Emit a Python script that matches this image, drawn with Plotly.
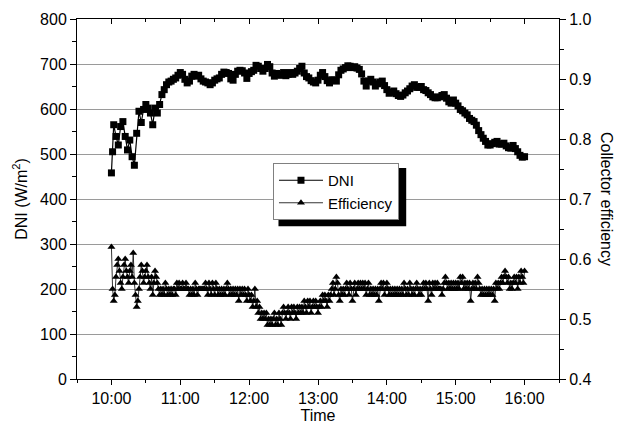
import pandas as pd
import plotly.graph_objects as go

# ---- data (minutes after 10:00) ----
dni_minutes = [0, 1] + list(range(2, 361, 2))
dni_values = [
    458, 505, 565, 539, 520, 561, 572, 539, 509, 531,
    494, 475, 546, 595, 570, 599, 610, 602, 591, 565,
    602, 591, 610, 632, 643, 654, 660, 662, 666, 669,
    675, 681, 677, 666, 658, 662, 673, 677, 673, 675,
    667, 662, 660, 658, 654, 658, 664, 667, 669, 677,
    682, 681, 679, 667, 664, 677, 684, 686, 685, 680,
    668, 679, 683, 686, 697, 695, 690, 684, 690, 699,
    694, 680, 673, 679, 676, 675, 681, 674, 677, 681,
    677, 680, 684, 690, 695, 680, 672, 669, 663, 660,
    658, 664, 675, 681, 672, 663, 658, 665, 664, 662,
    676, 686, 689, 692, 696, 695, 692, 694, 691, 688,
    678, 662, 651, 662, 666, 660, 651, 656, 660, 662,
    652, 643, 635, 637, 640, 634, 630, 628, 631, 636,
    640, 645, 651, 654, 648, 648, 650, 643, 641, 636,
    632, 627, 625, 625, 627, 630, 632, 624, 616, 613,
    620, 613, 607, 599, 596, 591, 587, 579, 575, 572,
    564, 552, 543, 535, 528, 520, 520, 523, 526, 528,
    522, 522, 524, 518, 514, 513, 519, 512, 505, 497,
    493, 494,
]

eff_minutes = list(range(0, 361))
eff_values = [
    .62, .55, .53, .54, .57, .59, .60, .58, .56, .55,
    .57, .59, .60, .58, .57, .56, .58, .59, .57, .61,
    .56, .54, .52, .53, .55, .57, .59, .58, .56, .57,
    .58, .59, .57, .56, .55, .57, .54, .56, .58, .57,
    .56, .55, .54, .55, .54, .55, .54, .56, .55, .54,
    .55, .54, .55, .54, .55, .55, .54, .56, .55, .56,
    .55, .55, .56, .55, .55, .56, .55, .55, .54, .55,
    .54, .55, .54, .56, .55, .54, .55, .55, .55, .55,
    .55, .55, .56, .55, .54, .56, .55, .54, .56, .55,
    .54, .56, .55, .54, .55, .54, .55, .54, .55, .54,
    .55, .56, .55, .54, .55, .54, .55, .54, .55, .54,
    .55, .53, .55, .54, .55, .54, .55, .54, .53, .55,
    .54, .53, .54, .52, .53, .55, .52, .53, .51, .52,
    .50, .51, .50, .51, .50, .51, .49, .50, .49, .50,
    .49, .50, .51, .49, .50, .49, .51, .50, .49, .51,
    .52, .51, .50, .51, .52, .51, .50, .52, .51, .52,
    .51, .50, .52, .51, .52, .51, .52, .51, .53, .52,
    .51, .53, .52, .53, .51, .52, .53, .52, .53, .52,
    .51, .52, .53, .52, .54, .53, .54, .53, .52, .54,
    .53, .54, .55, .56, .54, .55, .57, .56, .54, .53,
    .55, .54, .55, .54, .55, .56, .55, .54, .56, .55,
    .53, .55, .56, .54, .55, .56, .55, .56, .55, .56,
    .55, .56, .54, .55, .56, .54, .55, .54, .55, .54,
    .55, .54, .55, .53, .55, .56, .55, .56, .54, .55,
    .56, .55, .54, .55, .54, .55, .54, .55, .54, .55,
    .54, .55, .54, .55, .54, .56, .55, .54, .55, .54,
    .56, .55, .54, .55, .54, .55, .56, .55, .54, .55,
    .54, .55, .56, .55, .56, .55, .53, .56, .55, .54,
    .56, .55, .56, .55, .56, .55, .55, .55, .54, .55,
    .56, .57, .56, .55, .56, .55, .56, .55, .56, .55,
    .56, .55, .56, .55, .57, .56, .57, .55, .56, .55,
    .56, .55, .56, .53, .55, .56, .55, .56, .55, .57,
    .56, .55, .54, .55, .54, .55, .54, .55, .54, .55,
    .54, .55, .54, .55, .53, .56, .55, .56, .55, .56,
    .57, .56, .57, .58, .57, .56, .57, .55, .56, .55,
    .56, .57, .56, .57, .55, .57, .56, .58, .57, .56,
    .58,
]
assert len(dni_minutes) == len(dni_values)
assert len(eff_minutes) == len(eff_values)

base = pd.Timestamp("2000-01-01 10:00")
dni_time = [base + pd.Timedelta(minutes=m) for m in dni_minutes]
eff_time = [base + pd.Timedelta(minutes=m) for m in eff_minutes]

x_range = ["2000-01-01 09:30", "2000-01-01 16:30"]

FONT = "Liberation Sans, Arial, sans-serif"
GRID = "#9a9a9a"

fig = go.Figure()
fig.add_trace(go.Scatter(
    x=dni_time, y=dni_values, name="DNI", mode="lines+markers",
    line=dict(color="black", width=1.2),
    marker=dict(symbol="square", size=7, color="black"),
    yaxis="y", xaxis="x",
))
fig.add_trace(go.Scatter(
    x=eff_time, y=eff_values, name="Efficiency", mode="lines+markers",
    line=dict(color="black", width=0.8),
    marker=dict(symbol="triangle-up", size=7, color="black"),
    yaxis="y2", xaxis="x",
))
# invisible trace to carry the top tick axis
fig.add_trace(go.Scatter(
    x=x_range, y=[0, 0], mode="markers", marker=dict(opacity=0),
    xaxis="x2", yaxis="y", showlegend=False, hoverinfo="skip",
))

tickfont = dict(family=FONT, size=16, color="black")

# page body adds an 8px offset, so the figure is 8px smaller
fig.update_layout(
    width=614, height=420,
    margin=dict(l=69, r=63, t=11, b=49, autoexpand=False),
    paper_bgcolor="white", plot_bgcolor="white",
    font=dict(family=FONT, size=16, color="black"),
    showlegend=True,
    legend=dict(
        x=0.4066, y=0.6, xanchor="left", yanchor="top",
        bgcolor="white", bordercolor="#808080", borderwidth=1,
        font=dict(family=FONT, size=15, color="black"),
        tracegroupgap=0, itemwidth=44,
    ),
    xaxis=dict(
        type="date", range=x_range, tickformat="%H:%M", automargin=False,
        dtick=3600000, tick0="2000-01-01 10:00",
        ticks="outside", ticklen=5, tickcolor="black", tickwidth=1,
        minor=dict(dtick=1800000, tick0="2000-01-01 10:00", ticks="outside", ticklen=3, tickcolor="black"),
        showline=True, linecolor="black", linewidth=1, mirror=True,
        showgrid=False, zeroline=False, tickfont=tickfont,
        title=dict(text="Time", font=dict(family=FONT, size=16), standoff=0),
    ),
    xaxis2=dict(
        type="date", range=x_range, overlaying="x", side="top", matches="x",
        automargin=False,
        dtick=3600000, tick0="2000-01-01 10:00",
        ticks="inside", ticklen=5, tickcolor="black", tickwidth=1,
        minor=dict(dtick=1800000, tick0="2000-01-01 10:00", ticks="inside", ticklen=3, tickcolor="black"),
        showticklabels=False, showgrid=False, showline=False, zeroline=False,
    ),
    yaxis=dict(
        range=[0, 800], dtick=100, tick0=0, automargin=False,
        ticks="outside", ticklen=6, tickcolor="black", tickwidth=1,
        minor=dict(dtick=50, ticks="outside", ticklen=4, tickcolor="black", showgrid=False),
        showline=True, linecolor="black", linewidth=1,
        showgrid=True, gridcolor=GRID, gridwidth=1, zeroline=False,
        tickfont=tickfont,
        title=dict(text="DNI (W/m<sup>2</sup>)", font=dict(family=FONT, size=16), standoff=8),
    ),
    yaxis2=dict(
        range=[0.4, 1.0], dtick=0.1, tick0=0.4, tickformat=".1f", automargin=False,
        overlaying="y", side="right",
        ticks="outside", ticklen=6, tickcolor="black", tickwidth=1,
        minor=dict(dtick=0.05, ticks="outside", ticklen=4, tickcolor="black", showgrid=False),
        showline=True, linecolor="black", linewidth=1,
        showgrid=False, zeroline=False, tickfont=tickfont,
    ),
)

# right axis title reading top-to-bottom
fig.add_annotation(
    text="Collector efficiency", xref="paper", yref="paper",
    x=1.0, y=0.5, xanchor="center", yanchor="middle",
    xshift=48, textangle=90, showarrow=False,
    font=dict(family=FONT, size=16, color="black"),
)

# legend drop shadow
fig.add_shape(
    type="rect", xref="paper", yref="paper",
    x0=0.418, x1=0.683, y0=0.424, y1=0.586,
    fillcolor="black", line=dict(width=0), layer="above",
)

fig.write_html("out.html")
